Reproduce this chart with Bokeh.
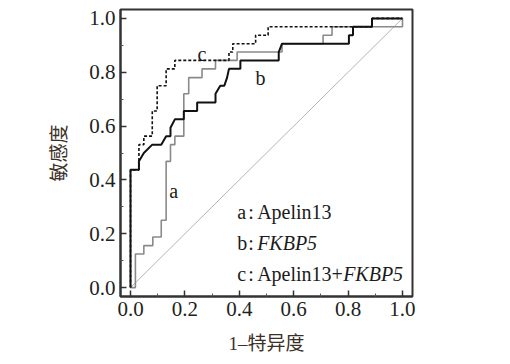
from bokeh.plotting import figure
from bokeh.models import FixedTicker, Range1d, ColumnDataSource
from bokeh.core.properties import value
from bokeh.embed import file_html
from bokeh.resources import INLINE

# ---- data ----
# curve a: Apelin13 (gray)
a_fpr = [0, 0.018, 0.018, 0.049, 0.049, 0.082, 0.082, 0.113, 0.113, 0.131, 0.131, 0.147, 0.147,
         0.163, 0.163, 0.196, 0.196, 0.214, 0.214, 0.263, 0.263, 0.3125, 0.3125, 0.392, 0.392,
         0.557, 0.557, 0.708, 0.708, 0.741, 0.741, 1.0, 1.0]
a_tpr = [0, 0, 0.125, 0.125, 0.156, 0.156, 0.188, 0.188, 0.25, 0.25, 0.469, 0.469, 0.531,
         0.531, 0.5625, 0.5625, 0.72, 0.72, 0.78, 0.78, 0.8125, 0.8125, 0.844, 0.844, 0.875,
         0.875, 0.906, 0.906, 0.9375, 0.9375, 0.969, 0.969, 1.0]
# curve b: FKBP5 (black solid)
b_fpr = [0, 0, 0.031, 0.031, 0.049, 0.08, 0.113, 0.131, 0.147, 0.147, 0.163, 0.196, 0.196,
         0.245, 0.245, 0.3125, 0.3125, 0.33, 0.345, 0.355, 0.362, 0.404, 0.404, 0.545, 0.545,
         0.557, 0.803, 0.803, 0.818, 0.818, 0.888, 0.888, 1.0]
b_tpr = [0, 0.4375, 0.4375, 0.469, 0.5, 0.531, 0.531, 0.5625, 0.5625, 0.594, 0.625, 0.625,
         0.656, 0.656, 0.6875, 0.6875, 0.72, 0.75, 0.75, 0.78, 0.8125, 0.8125, 0.844, 0.844,
         0.875, 0.906, 0.906, 0.9375, 0.9375, 0.969, 0.969, 1.0, 1.0]
# curve c: Apelin13+FKBP5 (black dashed)
c_fpr = [0, 0, 0.031, 0.031, 0.049, 0.049, 0.08, 0.08, 0.098, 0.098, 0.131, 0.131, 0.163,
         0.163, 0.362, 0.362, 0.376, 0.376, 0.46, 0.46, 0.506, 0.506, 0.888, 0.888, 1.0]
c_tpr = [0, 0.4375, 0.4375, 0.531, 0.531, 0.5625, 0.5625, 0.656, 0.656, 0.75, 0.75, 0.8125,
         0.8125, 0.844, 0.844, 0.875, 0.875, 0.906, 0.906, 0.9375, 0.9375, 0.969, 0.969, 1.0, 1.0]
# reference line
ref_x = [0, 1]
ref_y = [0, 1]

curve_keys = ["a", "b", "c"]
key_x = [0.159, 0.478, 0.263]
key_y = [0.36, 0.777, 0.868]

legend_keys = ["a", "b", "c"]
legend_names = ["Apelin13", "", "Apelin13+"]
legend_italic = ["", "FKBP5", "FKBP5"]
legend_y = [0.282, 0.165, 0.049]
legend_x = 0.392

x_ticks = [0.0, 0.2, 0.4, 0.6, 0.8, 1.0]
x_minor = [0.1, 0.3, 0.5, 0.7, 0.9]
tick_labels = ["0.0", "0.2", "0.4", "0.6", "0.8", "1.0"]

x_label = "1–特异度"
y_label = "敏感度"

SERIF = "Liberation Serif"
CJK = "Liberation Serif, Noto Sans CJK SC"

p = figure(width=452, height=356, output_backend="svg", toolbar_location=None,
           x_range=Range1d(-0.0368, 1.0368), y_range=Range1d(-0.033, 1.033),
           min_border_left=120, min_border_right=40, min_border_top=9, min_border_bottom=56)
p.grid.visible = False
p.outline_line_color = "#333333"
p.outline_line_width = 2
p.background_fill_color = "white"
p.border_fill_color = "white"

for ax in (p.xaxis[0], p.yaxis[0]):
    ax.ticker = FixedTicker(ticks=x_ticks, minor_ticks=x_minor)
    ax.major_label_overrides = {t: l for t, l in zip(x_ticks, tick_labels)}
    ax.major_tick_in = 6
    ax.major_tick_out = 0
    ax.minor_tick_in = 3
    ax.minor_tick_out = 0
    ax.axis_line_color = "#333333"
    ax.axis_line_width = 2
    ax.major_tick_line_color = "#333333"
    ax.major_tick_line_width = 1.5
    ax.minor_tick_line_color = "#555555"
    ax.minor_tick_line_width = 1
    ax.major_label_text_font = SERIF
    ax.major_label_text_font_size = "21px"
    ax.major_label_text_color = "#231f20"
    ax.axis_label_text_font = CJK
    ax.axis_label_text_font_size = "19px"
    ax.axis_label_text_font_style = "normal"
    ax.axis_label_text_color = "#3b3028"

p.xaxis.axis_label = x_label
p.yaxis.axis_label = y_label
p.xaxis.major_label_standoff = 5
p.yaxis.major_label_standoff = 5
p.xaxis.axis_label_standoff = 14
p.yaxis.axis_label_standoff = 16

# diagonal reference
p.line(ref_x, ref_y, line_color="#b5b5b5", line_width=1)
# curves
p.line(a_fpr, a_tpr, line_color="#8a8a8a", line_width=1.6)
p.line(c_fpr, c_tpr, line_color="#111111", line_width=1.6, line_dash="3 2")
p.line(b_fpr, b_tpr, line_color="#111111", line_width=2)

# curve keys
p.text(x=key_x, y=key_y, text=curve_keys, text_font=value(SERIF), text_font_size="20px",
       text_align="center", text_baseline="alphabetic", text_color="#1b1b1b")

# legend text
src = ColumnDataSource(dict(
    x=[legend_x] * 3 * 4,
    y=legend_y * 4,
    text=legend_keys + [":"] * 3 + legend_names + legend_italic,
    xo=[0] * 3 + [11] * 3 + [20] * 3 + [20, 20, 106],
    style=["normal"] * 9 + ["italic"] * 3,
))
p.text(x="x", y="y", text="text", x_offset="xo", text_font_style="style", source=src,
       text_font=value(SERIF), text_font_size="20px", text_align="left",
       text_baseline="alphabetic", text_color="#1b1b1b")

open("out.html", "w").write(file_html(p, INLINE))
